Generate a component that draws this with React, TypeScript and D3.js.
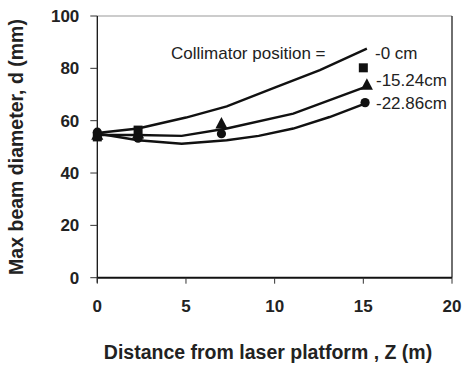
import React from "react";
import * as d3 from "d3";

// Fitted curves for each collimator position (Z in m, d in mm)
const fit0cm: [number, number][] = [
  [0, 55.3], [2.3, 57], [5, 61.2], [7.3, 65.5], [10, 72.6], [12.55, 79.3], [15.2, 87.5],
];
const fit15cm: [number, number][] = [
  [0, 54.5], [2.3, 54.5], [4.76, 54.2], [7.3, 57], [11.05, 62.7], [15.2, 73.1],
];
const fit22cm: [number, number][] = [
  [0, 55.1], [2.3, 52.5], [4.76, 51.2], [7.3, 52.5], [9.1, 54.2], [11.05, 57], [13.1, 61.4], [15.2, 66.8],
];

// Measured points
const squarePts: [number, number][] = [[0, 53.8], [2.3, 56.4], [15, 80.2]];
const trianglePts: [number, number][] = [[0, 54.5], [2.3, 55], [7, 58.8], [15.2, 73.6]];
const circlePts: [number, number][] = [[0, 55.6], [2.3, 53.3], [7, 55], [15.1, 66.9]];

const xTicks = [0, 5, 10, 15, 20];
const yTicks = [0, 20, 40, 60, 80, 100];

const legendTitle = "Collimator position =";
const seriesLabels = ["-0 cm", "-15.24cm", "-22.86cm"];

const W = 464;
const H = 375;
const left = 97.3;
const right = 452;
const top = 16;
const bottom = 277.7;

export default function App() {
  const x = d3.scaleLinear().domain([0, 20]).range([left, right]);
  const y = d3.scaleLinear().domain([0, 100]).range([bottom, top]);
  const line = d3
    .line<[number, number]>()
    .x((d) => x(d[0]))
    .y((d) => y(d[1]));

  const font = "'Liberation Sans', Arial, sans-serif";
  const tri = (cx: number, cy: number, s: number) =>
    `M${cx},${cy - s * 0.62}L${cx + s * 0.55},${cy + s * 0.42}L${cx - s * 0.55},${cy + s * 0.42}Z`;

  return (
    <svg
      width={W}
      height={H}
      style={{ position: "absolute", left: 0, top: 0, background: "#fff" }}
      fontFamily={font}
    >
      {/* frame */}
      <line x1={left} x2={right} y1={top} y2={top} stroke="#999" strokeWidth={1} />
      <line x1={right} x2={right} y1={top} y2={bottom} stroke="#222" strokeWidth={1.3} />
      <line x1={left} x2={left} y1={top} y2={bottom + 5} stroke="#111" strokeWidth={1.3} />
      <line x1={left} x2={right} y1={bottom} y2={bottom} stroke="#111" strokeWidth={2} />

      {/* y axis ticks */}
      {yTicks.map((t) => (
        <g key={"y" + t}>
          <line x1={left - 7} x2={left} y1={y(t)} y2={y(t)} stroke="#333" strokeWidth={1} />
          <text
            x={left - 18}
            y={y(t)}
            dy="0.36em"
            textAnchor="end"
            fontSize={17}
            fontWeight="bold"
            fill="#222"
          >
            {t}
          </text>
        </g>
      ))}

      {/* x axis ticks */}
      {xTicks.map((t) => (
        <g key={"x" + t}>
          <line x1={x(t)} x2={x(t)} y1={bottom} y2={bottom + 6} stroke="#333" strokeWidth={1} />
          <text
            x={x(t)}
            y={bottom + 34}
            textAnchor="middle"
            fontSize={17}
            fontWeight="bold"
            fill="#222"
          >
            {t}
          </text>
        </g>
      ))}

      {/* axis titles */}
      <text
        x={268}
        y={359}
        textAnchor="middle"
        fontSize={19.5}
        fontWeight="bold"
        fill="#222"
      >
        Distance from laser platform , Z (m)
      </text>
      <text
        transform={`translate(23,147) rotate(-90)`}
        textAnchor="middle"
        fontSize={19.5}
        fontWeight="bold"
        fill="#222"
      >
        Max beam diameter, d  (mm)
      </text>

      {/* fitted curves */}
      {[fit0cm, fit15cm, fit22cm].map((s, i) => (
        <path key={"f" + i} d={line(s) || ""} fill="none" stroke="#111" strokeWidth={2.4} />
      ))}

      {/* markers */}
      {squarePts.map((p, i) => (
        <rect
          key={"s" + i}
          x={x(p[0]) - 4.5}
          y={y(p[1]) - 4.5}
          width={9}
          height={9}
          fill="#111"
        />
      ))}
      {trianglePts.map((p, i) => (
        <path key={"t" + i} d={tri(x(p[0]), y(p[1]), 11)} fill="#111" />
      ))}
      {circlePts.map((p, i) => (
        <circle key={"c" + i} cx={x(p[0])} cy={y(p[1])} r={4.6} fill="#111" />
      ))}

      {/* legend text */}
      <text x={171} y={59} fontSize={17} fill="#222">
        {legendTitle}
      </text>
      <text x={375} y={59} fontSize={17} fill="#222">
        {seriesLabels[0]}
      </text>
      <text x={376} y={86} fontSize={17} fill="#222">
        {seriesLabels[1]}
      </text>
      <text x={376} y={109} fontSize={17} fill="#222">
        {seriesLabels[2]}
      </text>
    </svg>
  );
}
